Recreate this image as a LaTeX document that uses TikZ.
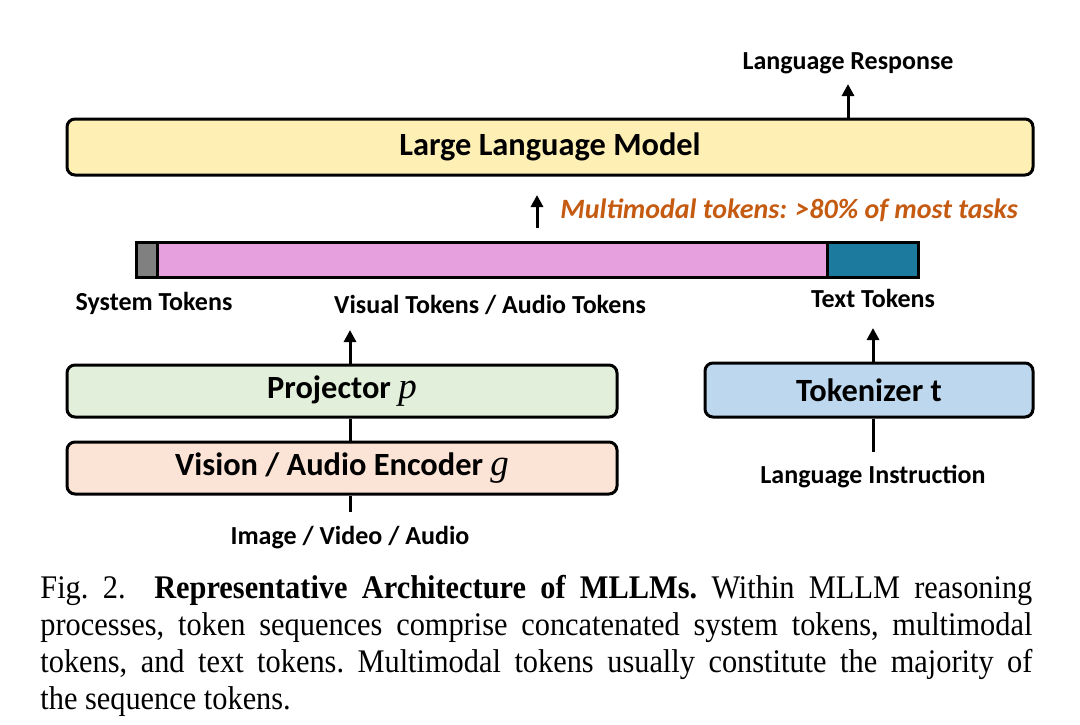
\documentclass[tikz,border=0pt]{standalone}
\usepackage{fontspec}
\setmainfont{Liberation Serif}
\newfontfamily\calfont{Carlito}
\newfontfamily\capfont[FakeStretch=0.92]{Liberation Serif}
\newfontfamily\mvfont{Liberation Serif}
\usetikzlibrary{arrows.meta}
\definecolor{llmfill}{HTML}{FEF0B4}
\definecolor{projfill}{HTML}{E2EFDA}
\definecolor{encfill}{HTML}{FBE3D6}
\definecolor{tokfill}{HTML}{BDD7EE}
\definecolor{orangetxt}{HTML}{C55A11}
\definecolor{pinkfill}{HTML}{E6A0DE}
\definecolor{bluefill}{HTML}{1B7A9E}
\definecolor{grayfill}{HTML}{808080}
\newcommand\mv[1]{{\mvfont\mdseries\itshape\fontsize{18.5}{18}\selectfont #1}}
\tikzset{
  blk/.style={draw=black, line width=1.5pt, rounded corners=4pt, font=\calfont\bfseries\fontsize{16.2}{18}\selectfont, inner sep=0pt},
  seg/.style={draw=black, line width=1.5pt, inner sep=0pt, minimum height=17.5pt},
  lbl/.style={font=\calfont\bfseries\fontsize{13}{15}\selectfont, inner sep=0pt},
  arr/.style={line width=1.5pt, -{Triangle[width=6pt,length=6pt]}},
  ln/.style={line width=1.5pt},
}
\begin{document}
\begin{tikzpicture}[x=0.5pt,y=-0.5pt]
\useasboundingbox (0,0) rectangle (1080,724);
% LLM
\node[blk, fill=llmfill, minimum width=483pt, minimum height=28pt] (llm) at (550,147) {Large Language Model};
\node[lbl] (resp) at (848,63) {Language Response};
\draw[arr] (llm.north -| resp) -- ([yshift=-5pt]resp.south);
% multimodal arrow
\coordinate (mmb) at (537,228);
\coordinate (mmt) at (537,195);
\draw[arr] (mmb) -- (mmt);
\node[font=\calfont\bfseries\itshape\fontsize{14}{16}\selectfont, text=orangetxt, anchor=west, inner sep=0pt] (mmtxt) at (560,210) {Multimodal tokens: >80\% of most tasks};
% token bar
\node[seg, fill=grayfill, minimum width=10.5pt] (sys) at (146.5,259.5) {};
\node[seg, fill=pinkfill, minimum width=335pt] (vis) at (492,259.5) {};
\node[seg, fill=bluefill, minimum width=45.5pt] (txt) at (872.5,259.5) {};
\node[lbl] (syslbl) at (154,303) {System Tokens};
\node[lbl] (vislbl) at (490,305) {Visual Tokens / Audio Tokens};
\node[lbl] (txtlbl) at (873,298) {Text Tokens};
% left branch
\node[blk, fill=projfill, minimum width=275pt, minimum height=26pt] (proj) at (342,391) {Projector \mv{p}};
\node[blk, fill=encfill, minimum width=275pt, minimum height=26pt] (enc) at (342,468) {Vision / Audio Encoder \mv{g}};
\coordinate (visend) at (350,330);
\draw[arr] (proj.north -| visend) -- (visend);
\draw[ln] (proj.south -| visend) -- (enc.north -| visend);
\coordinate (encin) at (350,512);
\draw[ln] (enc.south -| encin) -- (encin);
\node[lbl] (imglbl) at (350,538) {Image / Video / Audio};
% right branch
\node[blk, fill=tokfill, minimum width=164pt, minimum height=27pt] (tok) at (869,390) {Tokenizer t};
\coordinate (txtend) at (873,328);
\draw[arr] (tok.north -| txtend) -- (txtend);
\coordinate (tokin) at (873,452);
\draw[ln] (tok.south -| tokin) -- (tokin);
\node[lbl] (instr) at (873,477) {Language Instruction};
% caption
\node[anchor=north west, inner sep=0pt, text width=496pt, align=justify, font=\capfont\fontsize{16.5}{18.5}\selectfont] (cap) at (40,575) {\frenchspacing Fig. 2.\ \ \textbf{Representative Architecture of MLLMs.} Within MLLM reasoning\linebreak processes, token sequences comprise concatenated system tokens, multimodal\linebreak tokens, and text tokens. Multimodal tokens usually constitute the majority of\linebreak the sequence tokens.};
\end{tikzpicture}
\end{document}
